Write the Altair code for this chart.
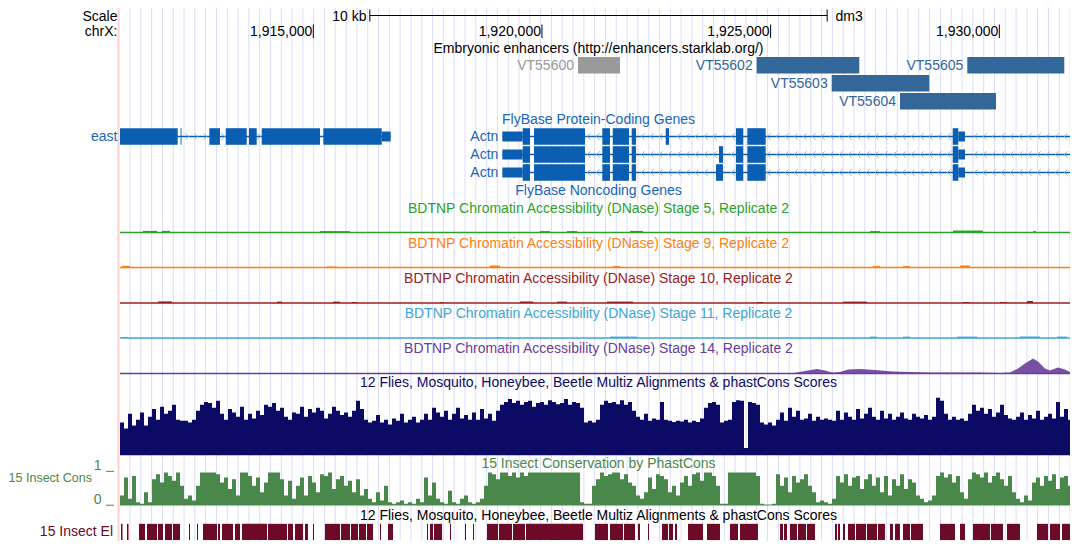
import altair as alt
import numpy as np
import pandas as pd

# ---------------------------------------------------------------- layout
OFF = 8            # page margin; reference pixel -> plot pixel
W, H = 1062, 533


def px(v):
    return v - OFF


def py(v):
    # reference y -> plot y (the lowest tracks are squeezed a little to fit the page)
    if v <= 375:
        return v - OFF
    return 375 - OFF + (v - 375) * (H + OFF - 375) / (549 - 375)


FONT = "Liberation Sans"
FS = 14

# ---------------------------------------------------------------- data
WIN_START, WIN_END = 1910773, 1931699          # chrX window shown
POS_TICKS = [1915000, 1920000, 1925000, 1930000]
SCALE_BAR_KB = 10

ENH_NAMES = ["VT55600", "VT55602", "VT55603", "VT55604", "VT55605"]
ENH_START = [1920788, 1924695, 1926335, 1927829, 1929300]
ENH_END = [1921706, 1926939, 1928469, 1929928, 1931421]
ENH_ROW = [0, 0, 1, 2, 0]
ENH_ACTIVE = [False, True, True, True, True]

# east (+ strand)  exons: start, end, kind
EAST_EXONS = [(1910773, 1912035, "cds"), (1912098, 1912118, "cds"),
              (1912726, 1912960, "cds"), (1913085, 1913544, "cds"),
              (1913594, 1913762, "cds"), (1913872, 1915147, "cds"),
              (1915219, 1916496, "cds"), (1916496, 1916692, "utr")]
EAST_SPAN = (1910773, 1916692)

# Actn (- strand), three isoforms
ACTN_COMMON = [(1919133, 1919579, "utr"), (1919579, 1919738, "cds"),
               (1919826, 1920941, "cds"), (1921319, 1921488, "cds"),
               (1921547, 1921903, "cds"), (1921962, 1922056, "cds"),
               (1924243, 1924402, "cds"), (1924490, 1924892, "cds"),
               (1928981, 1929104, "cds"), (1929104, 1929250, "utr")]
ACTN_EXTRA = [[(1922706, 1922778, "cds")],
              [(1923871, 1923958, "cds")],
              [(1923805, 1923958, "cds")]]
ACTN_SPAN = (1919133, 1932200)

# DNase bumps (start, end, signal)
DN_S5 = [(1911276, 1911582, 0.08), (1911691, 1911866, 0.08), (1915146, 1915802, 0.07),
         (1919957, 1920175, 0.07), (1920547, 1920766, 0.07), (1921925, 1922209, 0.08),
         (1927173, 1927391, 0.07), (1928987, 1929643, 0.10), (1930737, 1930802, 0.07)]
DN_S9 = [(1910817, 1910992, 0.08), (1915299, 1915518, 0.05), (1918863, 1919082, 0.10),
         (1921553, 1921706, 0.07), (1927238, 1927391, 0.07), (1927894, 1928047, 0.07),
         (1929140, 1929359, 0.10)]
DN_S10 = [(1911604, 1911910, 0.08), (1914206, 1914315, 0.07), (1915430, 1915584, 0.07),
          (1915846, 1915955, 0.05), (1917770, 1917836, 0.05), (1919519, 1919804, 0.08),
          (1920328, 1920547, 0.07), (1921422, 1921990, 0.07), (1924702, 1924833, 0.05),
          (1926582, 1927107, 0.07), (1929206, 1929359, 0.05), (1930015, 1930168, 0.05),
          (1930605, 1930737, 0.10)]
DN_S11 = [(1910817, 1910926, 0.05), (1914993, 1915059, 0.05), (1919016, 1919082, 0.05),
          (1921487, 1922078, 0.07), (1927173, 1927326, 0.07), (1927894, 1928047, 0.07),
          (1929075, 1929512, 0.07), (1930452, 1930890, 0.07), (1931261, 1931480, 0.07)]
DN_S14_POS = [1910773, 1925423, 1925576, 1925751, 1926014, 1926189, 1926342, 1926517,
              1926691, 1926954, 1927282, 1927675, 1928047, 1928550, 1929075, 1929578,
              1930015, 1930234, 1930409, 1930562, 1930737, 1930846, 1930999, 1931108,
              1931283, 1931436, 1931546, 1931699]
DN_S14_VAL = [0.0, 0.0, 0.05, 0.12, 0.22, 0.15, 0.05, 0.08, 0.2, 0.22, 0.18, 0.1,
              0.08, 0.05, 0.05, 0.05, 0.03, 0.05, 0.25, 0.5, 0.75, 0.6, 0.25, 0.15,
              0.3, 0.2, 0.08, 0.05]

# Multiz conservation (0..1), one value per ~87 bp bin
MULTIZ = [
    0.55, 0.45, 0.70, 0.50, 0.60, 0.72, 0.50, 0.65, 0.78, 0.60, 0.82, 0.70, 0.75, 0.85, 0.60, 0.58,
    0.58, 0.55, 0.60, 0.75, 0.85, 0.90, 0.88, 0.80, 0.92, 0.70, 0.60, 0.78, 0.72, 0.65, 0.82, 0.60,
    0.70, 0.62, 0.75, 0.68, 0.85, 0.82, 0.88, 0.75, 0.80, 0.65, 0.60, 0.72, 0.70, 0.82, 0.65, 0.78,
    0.72, 0.80, 0.75, 0.62, 0.70, 0.82, 0.75, 0.68, 0.72, 0.65, 0.75, 0.92, 0.78, 0.60, 0.55, 0.58,
    0.68, 0.55, 0.60, 0.52, 0.62, 0.58, 0.70, 0.55, 0.60, 0.65, 0.55, 0.60, 0.70, 0.60, 0.80, 0.72,
    0.65, 0.75, 0.60, 0.70, 0.80, 0.62, 0.68, 0.60, 0.72, 0.60, 0.78, 0.62, 0.70, 0.58, 0.75, 0.85,
    0.90, 0.95, 0.88, 0.92, 0.85, 0.90, 0.92, 0.82, 0.88, 0.90, 0.85, 0.93, 0.90, 0.86, 0.88, 0.95,
    0.85, 0.90, 0.88, 0.80, 0.55, 0.58, 0.55, 0.60, 0.85, 0.92, 0.88, 0.90, 0.86, 0.93, 0.85, 0.90,
    0.75, 0.65, 0.60, 0.70, 0.58, 0.62, 0.60, 0.90, 0.60, 0.58, 0.56, 0.58, 0.57, 0.60, 0.55, 0.58,
    0.56, 0.62, 0.80, 0.88, 0.90, 0.85, 0.55, 0.58, 0.60, 0.90, 0.93, 0.92, 0.12, 0.90, 0.88, 0.85,
    0.55, 0.52, 0.55, 0.50, 0.60, 0.72, 0.58, 0.80, 0.65, 0.75, 0.60, 0.62, 0.70, 0.58, 0.65, 0.60,
    0.62, 0.60, 0.58, 0.75, 0.60, 0.72, 0.65, 0.60, 0.78, 0.62, 0.70, 0.80, 0.65, 0.60, 0.75, 0.62,
    0.70, 0.60, 0.65, 0.72, 0.62, 0.60, 0.70, 0.65, 0.62, 0.68, 0.60, 0.65, 0.97, 0.92, 0.70, 0.60,
    0.65, 0.60, 0.62, 0.58, 0.70, 0.85, 0.75, 0.80, 0.70, 0.78, 0.65, 0.72, 0.85, 0.68, 0.62, 0.60,
    0.65, 0.72, 0.60, 0.68, 0.62, 0.75, 0.60, 0.65, 0.70, 0.62, 0.90, 0.65, 0.78, 0.60, 0.72, 0.65,
]

# phastCons (0..1)
PHAST = [
    0.30, 0.85, 0.20, 0.90, 0.10, 0.05, 0.40, 0.10, 0.80, 0.95, 0.70, 1.00, 0.90, 0.75, 1.00, 0.60,
    0.20, 0.30, 0.15, 0.60, 1.00, 1.00, 1.00, 1.00, 0.95, 0.70, 0.85, 0.50, 0.80, 0.30, 1.00, 1.00,
    0.90, 0.60, 0.85, 0.40, 0.70, 1.00, 1.00, 1.00, 0.80, 0.30, 0.75, 0.20, 0.60, 0.85, 0.30, 0.90,
    0.70, 0.40, 0.95, 0.90, 1.00, 0.50, 0.80, 0.90, 0.60, 0.75, 0.40, 0.80, 0.30, 0.50, 0.20, 0.10,
    0.40, 0.15, 0.60, 0.10, 0.05, 0.10, 0.15, 0.05, 0.10, 0.05, 0.20, 0.10, 0.85, 0.30, 0.70, 0.20,
    0.10, 0.05, 0.45, 0.10, 0.05, 0.20, 0.30, 0.10, 0.05, 0.10, 0.20, 0.60, 1.00, 0.95, 0.80, 1.00,
    1.00, 0.90, 1.00, 0.85, 1.00, 0.90, 1.00, 1.00, 1.00, 1.00, 1.00, 1.00, 1.00, 1.00, 1.00, 1.00,
    1.00, 1.00, 1.00, 0.10, 0.05, 0.05, 0.60, 0.80, 1.00, 0.90, 0.95, 1.00, 1.00, 0.80, 0.95, 0.70,
    0.60, 0.30, 0.20, 0.40, 0.85, 0.50, 0.95, 0.90, 0.80, 0.40, 0.60, 0.30, 0.70, 0.90, 0.60, 0.95,
    1.00, 0.75, 1.00, 1.00, 0.90, 0.60, 0.05, 0.05, 1.00, 1.00, 1.00, 1.00, 1.00, 1.00, 1.00, 0.90,
    0.05, 0.03, 0.03, 0.05, 0.95, 0.60, 0.85, 0.40, 0.90, 0.70, 0.80, 0.95, 0.60, 0.40, 0.10, 0.15,
    0.10, 0.05, 0.20, 0.90, 0.70, 0.95, 0.60, 0.85, 0.90, 0.50, 0.80, 0.95, 0.60, 0.85, 0.40, 0.90,
    0.30, 0.80, 0.60, 0.95, 0.50, 0.80, 0.70, 0.30, 0.20, 0.10, 0.15, 0.30, 0.90, 1.00, 0.85, 0.95,
    0.70, 0.90, 0.40, 0.20, 0.80, 1.00, 0.95, 0.85, 1.00, 0.70, 0.90, 1.00, 0.80, 0.60, 0.90, 0.40,
    0.20, 0.10, 0.30, 0.15, 0.70, 0.85, 0.60, 0.90, 0.75, 0.95, 0.50, 0.85, 0.90, 0.60, 0.80, 0.70,
]

# conserved elements (start, end)
ELEMENTS = [
    (1910795, 1910828), (1910926, 1910959), (1911188, 1911320), (1911363, 1911582),
    (1911604, 1911713), (1911757, 1911910), (1911932, 1912085), (1912282, 1912304),
    (1912457, 1912479), (1912588, 1912894), (1912916, 1912960), (1913003, 1913244),
    (1913288, 1913397), (1913441, 1913987), (1914009, 1914425), (1914446, 1914556),
    (1914600, 1914774), (1914818, 1914884), (1914993, 1915015), (1915256, 1915584),
    (1915605, 1915802), (1915824, 1915977), (1915999, 1916152), (1916174, 1916305),
    (1916458, 1916480), (1916633, 1916742), (1917486, 1917508), (1917551, 1917617),
    (1917639, 1917814), (1917989, 1918011), (1918317, 1918339), (1918492, 1918514),
    (1918798, 1919038), (1919060, 1919344), (1919366, 1919629), (1919651, 1920897),
    (1921159, 1921444), (1921487, 1921772), (1921794, 1922034), (1922100, 1922143),
    (1922318, 1922340), (1922625, 1922756), (1922777, 1922865), (1922909, 1922952),
    (1923193, 1923521), (1923608, 1923893), (1924111, 1924286), (1924330, 1924723),
    (1925205, 1925270), (1925292, 1925358), (1925423, 1925576), (1925598, 1925773),
    (1925795, 1925970), (1926407, 1926451), (1926473, 1926517), (1926582, 1926626),
    (1926691, 1926845), (1926866, 1927085), (1927107, 1927326), (1927347, 1927500),
    (1927610, 1927675), (1927719, 1927828), (1927894, 1928047), (1928069, 1928331),
    (1928703, 1929031), (1929140, 1929250), (1929425, 1929796), (1929818, 1930081),
    (1930168, 1930452), (1930824, 1931065), (1931108, 1931327), (1931371, 1931699),
]

# ---------------------------------------------------------------- styles
GRID_COL = "#dcdcfa"
PINK = "#ffd2d2"
GENE = "#0b5fb3"
GENE_TXT = "#1866b8"
CHEV = "#86b2de"
ENH = "#336699"
ENH_OFF = "#999999"
C_S5, C_S9, C_S10, C_S11, C_S14 = "#2ca02c", "#ff7f0e", "#9b1d20", "#3ea6d6", "#6a3d9a"
NAVY = "#0b0b66"
CONS_G = "#4a874a"
ELEM = "#6c0a28"

XS = alt.Scale(domain=[WIN_START, WIN_END], range=[px(120), px(1077)])
BP_PER_PX = (WIN_END - WIN_START) / (1077 - 120)


def gx(field):
    return alt.X(field, type="quantitative", scale=XS, axis=None)


def pyy(field):
    return alt.Y(field, type="quantitative", scale=None, axis=None)


def one():
    return pd.DataFrame({"a": [0]})


layers = []

# guide lines
GRID = WIN_START + (10 + np.arange(88) * 10.806) * BP_PER_PX
layers.append(alt.Chart(pd.DataFrame({"g": GRID})).mark_rule(color=GRID_COL, strokeWidth=1)
              .encode(x=gx("g"), y=alt.value(0), y2=alt.value(H)))
layers.append(alt.Chart(one()).mark_rule(color=PINK, strokeWidth=2)
              .encode(x=alt.value(px(118.5)), y=alt.value(0), y2=alt.value(H)))


# text helper
def text_layer(rows, align, size=FS):
    df = pd.DataFrame(rows, columns=["t", "x", "y", "c"])
    return alt.Chart(df).mark_text(align=align, baseline="middle", font=FONT, fontSize=size).encode(
        x=alt.X("x:Q", scale=None, axis=None), y=pyy("y"), text="t:N",
        color=alt.Color("c:N", scale=None, legend=None))


TCX = px(598.5)
HDR_Y = 16.5
DN_TITLE = "BDTNP Chromatin Accessibility (DNase) Stage {}, Replicate 2"
MZ_TITLE = "12 Flies, Mosquito, Honeybee, Beetle Multiz Alignments & phastCons Scores"
layers.append(text_layer([
    ["Scale", px(117.5), py(HDR_Y), "black"],
    ["chrX:", px(117.5), py(32), "black"],
    ["10 kb", px(366.5), py(HDR_Y), "black"],
    ["east", px(117.5), py(136.5), GENE_TXT],
    ["1", px(101.5), py(470), CONS_G],
    ["0", px(101.5), py(505.5), CONS_G],
    ["15 Insect El", px(113), py(540), ELEM],
], "right"))
layers.append(text_layer([["15 Insect Cons", px(92), py(483), CONS_G]], "right", 12.5))
layers.append(text_layer([["dm3", px(835.5), py(HDR_Y), "black"]], "left"))
layers.append(text_layer([
    ["Embryonic enhancers (http://enhancers.starklab.org/)", TCX, py(49), "black"],
    ["FlyBase Protein-Coding Genes", TCX, py(120), GENE_TXT],
    ["FlyBase Noncoding Genes", TCX, py(191), GENE_TXT],
    [DN_TITLE.format(5), TCX, py(209), C_S5],
    [DN_TITLE.format(9), TCX, py(243.5), C_S9],
    [DN_TITLE.format(10), TCX, py(278.5), C_S10],
    [DN_TITLE.format(11), TCX, py(313.5), C_S11],
    [DN_TITLE.format(14), TCX, py(348.5), C_S14],
    [MZ_TITLE, TCX, py(383.5), NAVY],
    ["15 Insect Conservation by PhastCons", TCX, py(468), CONS_G],
    [MZ_TITLE, TCX, py(523), "black"],
], "center"))

# small "_" ticks of the phastCons axis
layers.append(alt.Chart(pd.DataFrame({"y": [py(476), py(511.5)]})).mark_rule(color=CONS_G, strokeWidth=1)
              .encode(x=alt.value(px(106)), x2=alt.value(px(114)), y=pyy("y")))

# scale bar
mid = (WIN_START + WIN_END) / 2
sb = pd.DataFrame({"s": [mid - SCALE_BAR_KB * 500], "e": [mid + SCALE_BAR_KB * 500]})
layers.append(alt.Chart(sb).mark_rule(color="black", strokeWidth=1)
              .encode(x=gx("s"), x2="e:Q", y=alt.value(py(15.5))))
sbe = pd.DataFrame({"p": [mid - SCALE_BAR_KB * 500, mid + SCALE_BAR_KB * 500]})
layers.append(alt.Chart(sbe).mark_rule(color="black", strokeWidth=1)
              .encode(x=gx("p"), y=alt.value(py(9.5)), y2=alt.value(py(21.5))))

# position ticks
pt = pd.DataFrame({"p": POS_TICKS, "lab": [f"{v:,}" for v in POS_TICKS]})
layers.append(alt.Chart(pt).mark_rule(color="black", strokeWidth=1)
              .encode(x=gx("p"), y=alt.value(py(24.5)), y2=alt.value(py(38))))
layers.append(alt.Chart(pt).mark_text(align="right", baseline="middle", dx=-1, font=FONT, fontSize=FS,
                                      color="black")
              .encode(x=gx("p"), y=alt.value(py(32)), text="lab:N"))

# enhancers
enh = pd.DataFrame({"name": ENH_NAMES, "s": ENH_START, "e": ENH_END, "row": ENH_ROW,
                    "c": [ENH if a else ENH_OFF for a in ENH_ACTIVE]})
enh["y0"] = py(57) + enh["row"] * 18
enh["y1"] = enh["y0"] + 16.5
enh["ym"] = enh["y0"] + 8.5
layers.append(alt.Chart(enh).mark_rect().encode(
    x=gx("s"), x2="e:Q", y=pyy("y0"), y2="y1:Q", color=alt.Color("c:N", scale=None, legend=None)))
layers.append(alt.Chart(enh).mark_text(align="right", baseline="middle", dx=-4, font=FONT, fontSize=FS)
              .encode(x=gx("s"), y=pyy("ym"), text="name:N",
                      color=alt.Color("c:N", scale=None, legend=None)))

# genes
ROW_C = [py(136.5), py(154.5), py(172.5)]
HALF = {"cds": 8.3, "utr": 5}
ex_rows = []
for s, e, k in EAST_EXONS:
    ex_rows.append((s, e, ROW_C[0] - HALF[k], ROW_C[0] + HALF[k]))
for r in range(3):
    for s, e, k in ACTN_COMMON + ACTN_EXTRA[r]:
        ex_rows.append((s, e, ROW_C[r] - HALF[k], ROW_C[r] + HALF[k]))
exdf = pd.DataFrame(ex_rows, columns=["s", "e", "y0", "y1"])

intr = pd.DataFrame({"s": [EAST_SPAN[0]] + [ACTN_SPAN[0]] * 3,
                     "e": [EAST_SPAN[1]] + [ACTN_SPAN[1]] * 3,
                     "y": [ROW_C[0], ROW_C[0], ROW_C[1], ROW_C[2]]})
layers.append(alt.Chart(intr).mark_rule(color=GENE, strokeWidth=1.5, clip=True)
              .encode(x=gx("s"), x2="e:Q", y=pyy("y")))


def chevron_positions(exons, span, anchor, step):
    pos = np.arange(anchor - step * 200, span[1], step)
    pos = pos[(pos > span[0]) & (pos < min(span[1], WIN_END))]
    margin = 2.3 * BP_PER_PX
    keep = []
    for p in pos:
        if all(p < s - margin or p > e + margin for s, e, _ in exons):
            keep.append(p)
    return keep


chev_rows = []
east_ch = chevron_positions(EAST_EXONS, EAST_SPAN, WIN_START + 67 * BP_PER_PX, 9 * BP_PER_PX)
for p in east_ch:
    chev_rows.append((p, ROW_C[0], "R"))
for r in range(3):
    ch = chevron_positions(ACTN_COMMON + ACTN_EXTRA[r], ACTN_SPAN, WIN_START + 730 * BP_PER_PX,
                           9 * BP_PER_PX)
    for p in ch:
        chev_rows.append((p, ROW_C[r], "L"))
chdf = pd.DataFrame(chev_rows, columns=["p", "y", "d"])
for d, shape in [("R", "M -0.5 -1 L 0.5 0 L -0.5 1"), ("L", "M 0.5 -1 L -0.5 0 L 0.5 1")]:
    layers.append(alt.Chart(chdf[chdf.d == d]).mark_point(shape=shape, filled=False, size=40,
                                                        strokeWidth=1, color=CHEV, opacity=1)
                  .encode(x=gx("p"), y=pyy("y")))

layers.append(alt.Chart(exdf).mark_rect(color=GENE).encode(x=gx("s"), x2="e:Q", y=pyy("y0"), y2="y1:Q"))

actn_lab = pd.DataFrame({"p": [ACTN_SPAN[0]] * 3, "y": ROW_C, "t": ["Actn"] * 3})
layers.append(alt.Chart(actn_lab).mark_text(align="right", baseline="middle", dx=-4, font=FONT,
                                            fontSize=FS, color=GENE_TXT)
              .encode(x=gx("p"), y=pyy("y"), text="t:N"))

# DNase tracks
DN_TRACKS = [(DN_S5, C_S5, 232.5), (DN_S9, C_S9, 267.5), (DN_S10, C_S10, 303),
             (DN_S11, C_S11, 338), (None, C_S14, 373.5)]
for bumps, col, base in DN_TRACKS:
    ysc = alt.Scale(domain=[0, 1], range=[py(base), py(base) - 20])
    layers.append(alt.Chart(one()).mark_rule(color=col, strokeWidth=1.5)
                  .encode(x=alt.value(px(120)), x2=alt.value(px(1077)), y=alt.value(py(base))))
    if bumps is not None:
        bd = pd.DataFrame(bumps, columns=["s", "e", "v"])
        layers.append(alt.Chart(bd).mark_rect(color=col)
                      .encode(x=gx("s"), x2="e:Q",
                              y=alt.Y("v:Q", scale=ysc, axis=None), y2=alt.datum(0)))
    else:
        sd = pd.DataFrame({"p": DN_S14_POS, "v": DN_S14_VAL})
        layers.append(alt.Chart(sd).mark_area(color=col, opacity=0.9)
                      .encode(x=gx("p"), y=alt.Y("v:Q", scale=ysc, axis=None)))

# conservation
BIN_BP = 4 * BP_PER_PX
nb = len(MULTIZ)
bins = WIN_START + np.arange(nb + 1) * BIN_BP
mz = pd.DataFrame({"p": bins, "v": MULTIZ + [MULTIZ[-1]]})
layers.append(alt.Chart(mz).mark_area(color=NAVY, interpolate="step-after", clip=True)
              .encode(x=gx("p"), y=alt.Y("v:Q", scale=alt.Scale(domain=[0, 1], range=[py(459), py(397)]),
                                          axis=None)))
pc = pd.DataFrame({"p": bins, "v": PHAST + [PHAST[-1]]})
layers.append(alt.Chart(pc).mark_area(color=CONS_G, interpolate="step-after", clip=True)
              .encode(x=gx("p"), y=alt.Y("v:Q", scale=alt.Scale(domain=[0, 1], range=[py(511.7), py(477.3)]),
                                          axis=None)))

el = pd.DataFrame(ELEMENTS, columns=["s", "e"])
layers.append(alt.Chart(el).mark_rect(color=ELEM)
              .encode(x=gx("s"), x2="e:Q", y=alt.value(py(531)), y2=alt.value(py(548))))

chart = alt.layer(*layers).resolve_scale(x="independent", y="independent", color="independent").properties(
    width=W, height=H, autosize="none", padding=0, background="white"
).configure_view(stroke=None)

chart.save("out.html", embed_options={"renderer": "svg", "actions": False})
